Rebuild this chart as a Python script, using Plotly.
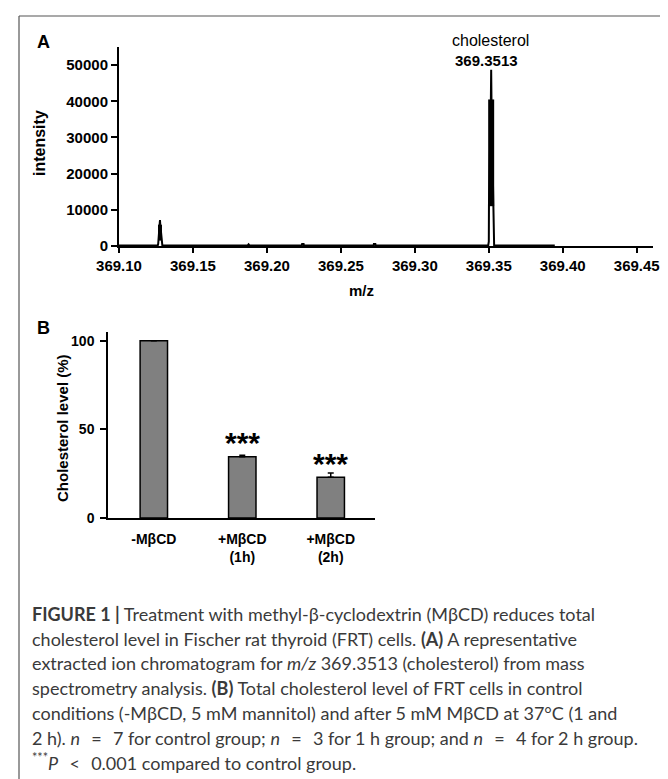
import plotly.graph_objects as go

W, H = 668, 779

# ---------------- Panel A data: extracted ion chromatogram ----------------
mz = [369.1000, 369.1262, 369.1265, 369.1266, 369.1275, 369.1277, 369.1279, 369.1289, 369.1290, 369.1293,
      369.1870, 369.1876, 369.1882,
      369.2236, 369.2238, 369.2248, 369.2250,
      369.2721, 369.2723, 369.2733, 369.2735,
      369.3496, 369.3500, 369.3501, 369.3514, 369.3516, 369.3518, 369.3531, 369.3532, 369.3536,
      369.3946]
intensity = [150, 150, 600, 1500, 5900, 7200, 5900, 1500, 600, 150,
             150, 450, 150,
             150, 550, 550, 150,
             150, 550, 550, 150,
             150, 1200, 11000, 40500, 48700, 40500, 11000, 1200, 150,
             150]
# dense apex regions of the two peaks
small_core_mz = [369.1277, 369.1277]
small_core_int = [1500, 5900]
main_core_mz = [369.3516, 369.3516]
main_core_int = [11000, 40500]

x_ticks_a = [369.10, 369.15, 369.20, 369.25, 369.30, 369.35, 369.40, 369.45]
y_ticks_a = [0, 10000, 20000, 30000, 40000, 50000]

# ---------------- Panel B data: cholesterol level ----------------
categories = ["-MβCD", "+MβCD<br>(1h)", "+MβCD<br>(2h)"]
chol_level = [100, 34.6, 23.0]
chol_err = [0.0, 0.8, 2.4]
signif = ["", "***", "***"]
y_ticks_b = [0, 50, 100]

SP = "\u2002\u2009"  # wide math-style spacing around relations
caption_lines = [
    "<b>FIGURE 1 |</b> Treatment with methyl-β-cyclodextrin (MβCD) reduces total",
    "cholesterol level in Fischer rat thyroid (FRT) cells. <b>(A)</b> A representative",
    "extracted ion chromatogram for <i>m/z</i> 369.3513 (cholesterol) from mass",
    "spectrometry analysis. <b>(B)</b> Total cholesterol level of FRT cells in control",
    "conditions (-MβCD, 5 mM mannitol) and after 5 mM MβCD at 37°C (1 and",
    f"2 h). <i>n</i>{SP}={SP}7 for control group; <i>n</i>{SP}={SP}3 for 1 h group; "
    f"and <i>n</i>{SP}={SP}4 for 2 h group.",
    f"<sup>***</sup><i>P</i>{SP}&lt;{SP}0.001 compared to control group.",
]


def px(x):
    return x / W


def py(y):
    return 1 - y / H


FONT = "Liberation Sans, Arial, sans-serif"
CAP_FONT = "Lato, Liberation Sans, sans-serif"

fig = go.Figure()

fig.add_trace(go.Scatter(x=mz, y=intensity, mode="lines", line=dict(color="black", width=2),
                         xaxis="x", yaxis="y", showlegend=False, hoverinfo="skip"))
fig.add_trace(go.Scatter(x=small_core_mz, y=small_core_int, mode="lines", line=dict(color="black", width=4),
                         xaxis="x", yaxis="y", showlegend=False, hoverinfo="skip"))
fig.add_trace(go.Scatter(x=main_core_mz, y=main_core_int, mode="lines", line=dict(color="black", width=6),
                         xaxis="x", yaxis="y", showlegend=False, hoverinfo="skip"))

fig.add_trace(go.Bar(x=categories, y=chol_level, width=0.31,
                     marker=dict(color="#808080", line=dict(color="black", width=1.5)),
                     error_y=dict(type="data", symmetric=False, array=chol_err,
                                  arrayminus=[0] * len(chol_err), color="black", thickness=1.5, width=3),
                     xaxis="x2", yaxis="y2", showlegend=False, hoverinfo="skip"))

axis_font_a = dict(family=FONT, size=15, color="black", weight="bold")
axis_font_b = dict(family=FONT, size=14, color="black", weight="bold")

fig.update_layout(
    width=W, height=H, autosize=False,
    margin=dict(l=0, r=0, t=0, b=0, autoexpand=False),
    paper_bgcolor="white", plot_bgcolor="white",
    xaxis=dict(domain=[px(111), px(645)], range=[369.10, 369.461], tickvals=x_ticks_a,
               ticktext=[f"{v:.2f}" for v in x_ticks_a], showgrid=False, zeroline=False,
               showline=True, linecolor="black", linewidth=2, ticks="outside", ticklen=5,
               tickwidth=2, tickcolor="black", tickfont=axis_font_a, anchor="y", automargin=False),
    yaxis=dict(domain=[py(238), py(39)], range=[0, 55000], tickvals=y_ticks_a,
               ticktext=[str(v) for v in y_ticks_a], showgrid=False, zeroline=False,
               showline=True, linecolor="black", linewidth=2, ticks="outside", ticklen=6,
               tickwidth=2, tickcolor="black", tickfont=axis_font_a, anchor="x", automargin=False),
    xaxis2=dict(domain=[px(100), px(366.7)], range=[-0.518, 2.497], type="category",
                showgrid=False, zeroline=False, showline=True, linecolor="black", linewidth=1.5,
                ticks="", tickfont=dict(family=FONT, size=14, color="black", weight="bold"),
                ticklabelstandoff=7, anchor="y2", automargin=False),
    yaxis2=dict(domain=[py(510), py(324)], range=[0, 104.9], tickvals=y_ticks_b,
                showgrid=False, zeroline=False, showline=True, linecolor="black", linewidth=1.5,
                ticks="outside", ticklen=6, tickwidth=1.5, tickcolor="black",
                tickfont=axis_font_b, ticklabelstandoff=3, anchor="x2", automargin=False),
)

ann = []
# panel labels
ann.append(dict(x=px(35), y=py(34), text="<b>A</b>", font=dict(family=FONT, size=18, color="black")))
ann.append(dict(x=px(35), y=py(320), text="<b>B</b>", font=dict(family=FONT, size=18, color="black")))
# axis titles
ann.append(dict(x=px(32), y=py(135), text="<b>intensity</b>", textangle=-90,
                font=dict(family=FONT, size=16, color="black")))
ann.append(dict(x=px(353), y=py(283), text="<b>m/z</b>", font=dict(family=FONT, size=15, color="black")))
ann.append(dict(x=px(54), y=py(420), text="<b>Cholesterol level (%)</b>", textangle=-90,
                font=dict(family=FONT, size=15, color="black")))
# peak label
ann.append(dict(x=px(483), y=py(33), text="cholesterol", font=dict(family=FONT, size=16, color="black")))
ann.append(dict(x=px(478), y=py(52), text="<b>369.3513</b>", font=dict(family=FONT, size=15, color="black")))
for a in ann:
    a.update(xref="paper", yref="paper", showarrow=False, xanchor="center", yanchor="middle")

# significance stars on bars
for cat, val, err, s in zip(categories, chol_level, chol_err, signif):
    if s:
        ann.append(dict(x=cat, y=val, xref="x2", yref="y2", text="<b>" + s + "</b>", showarrow=False,
                        xanchor="center", yanchor="middle", yshift=14,
                        font=dict(family=FONT, size=30, color="black")))

# caption
for i, line in enumerate(caption_lines):
    ann.append(dict(x=px(22), y=py(606 + i * 24.7), xref="paper", yref="paper", text=line,
                    showarrow=False, xanchor="left", yanchor="middle",
                    font=dict(family=CAP_FONT, size=18, color="#3a3a3a")))

fig.update_layout(annotations=ann)

# frame (left and top border)
fig.update_layout(shapes=[
    dict(type="line", xref="paper", yref="paper", x0=px(11), x1=px(11), y0=0, y1=py(8),
         line=dict(color="#555555", width=1.2)),
    dict(type="line", xref="paper", yref="paper", x0=px(11), x1=1, y0=py(8), y1=py(8),
         line=dict(color="#555555", width=1.2)),
])

fig.write_html("out.html")
